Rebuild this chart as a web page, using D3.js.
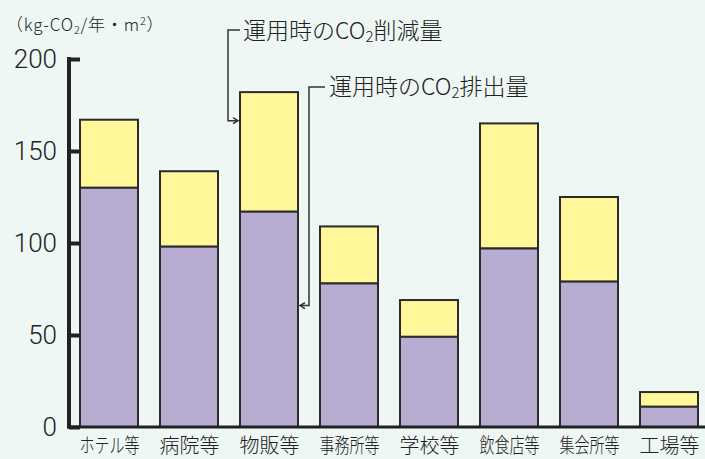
<!DOCTYPE html>
<html>
<head>
<meta charset="utf-8">
<script src="https://cdn.jsdelivr.net/npm/d3@7"></script>
<style>
  html, body { margin: 0; padding: 0; background: #eef7f3; }
  svg { display: block; }
  text { font-family: "Noto Sans CJK JP", "Noto Sans", sans-serif; fill: #222; font-weight: 300; }
</style>
</head>
<body>
<svg id="chart" width="705" height="459"></svg>
<script>
// Building categories
const categories = ["ホテル等", "病院等", "物販等", "事務所等", "学校等", "飲食店等", "集会所等", "工場等"];
// Operational CO2 emissions (kg-CO2/年・m2)
const emissions = [130, 98, 117, 78, 49, 97, 79, 11];
// Operational CO2 reductions (stacked on top of emissions)
const reductions = [37, 41, 65, 31, 20, 68, 46, 8];
const yTicks = [0, 50, 100, 150, 200];

const svg = d3.select("#chart");
const W = 705, H = 459;

svg.append("rect").attr("width", W).attr("height", H).attr("fill", "#eef7f3");

const x = d3.scaleBand()
  .domain(categories)
  .range([69, 709])
  .paddingInner(0.275)
  .paddingOuter(0.1375);

const y = d3.scaleLinear().domain([0, 200]).range([427, 59]);

const data = categories.map((c, i) => ({ c, e: emissions[i], r: reductions[i] }));

// Bars: emissions (purple) with reductions (yellow) stacked on top
const g = svg.append("g");
g.selectAll("rect.red").data(data).join("rect")
  .attr("class", "red")
  .attr("x", d => x(d.c))
  .attr("y", d => y(d.e + d.r))
  .attr("width", x.bandwidth())
  .attr("height", d => y(d.e) - y(d.e + d.r))
  .attr("fill", "#fff79a")
  .attr("stroke", "#2b2b2b")
  .attr("stroke-width", 2);

g.selectAll("rect.emi").data(data).join("rect")
  .attr("class", "emi")
  .attr("x", d => x(d.c))
  .attr("y", d => y(d.e))
  .attr("width", x.bandwidth())
  .attr("height", d => y(0) - y(d.e))
  .attr("fill", "#b9acd3")
  .attr("stroke", "#2b2b2b")
  .attr("stroke-width", 2);

// Y axis with inward ticks
const yAxis = d3.axisRight(y).tickValues(yTicks).tickSize(11).tickFormat("");
const ya = svg.append("g").attr("transform", "translate(69,0)").call(yAxis);
ya.select(".domain").remove();
ya.selectAll(".tick line").attr("stroke", "#222").attr("stroke-width", 4);
svg.append("line")
  .attr("x1", 69).attr("x2", 69)
  .attr("y1", y(200) - 2).attr("y2", y(0) + 1.5)
  .attr("stroke", "#222").attr("stroke-width", 4);
// Baseline
svg.append("line")
  .attr("x1", 67).attr("x2", 705)
  .attr("y1", y(0)).attr("y2", y(0))
  .attr("stroke", "#222").attr("stroke-width", 3);

// Tick labels
svg.selectAll("text.ytl").data(yTicks).join("text")
  .attr("class", "ytl")
  .attr("x", 57)
  .attr("y", d => y(d))
  .attr("dy", "0.36em")
  .attr("text-anchor", "end")
  .style("font-family", "Roboto, 'Liberation Sans', Arial, sans-serif")
  .style("font-weight", 300)
  .attr("font-size", 26)
  .text(d => d);

// Unit label
const unit = svg.append("text").attr("x", 6).attr("y", 31).attr("font-size", 17)
  .attr("letter-spacing", 0.8);
unit.append("tspan").text("（kg-CO");
unit.append("tspan").attr("font-size", 11).attr("dy", 3).text("2");
unit.append("tspan").attr("dy", -3).text("/年・m");
unit.append("tspan").attr("font-size", 11).attr("dy", -6).text("2");
unit.append("tspan").attr("dy", 6).text("）");

// Category labels, squeezed to the bar width
svg.selectAll("text.xl").data(categories).join("text")
  .attr("class", "xl")
  .attr("x", d => x(d) + x.bandwidth() / 2 - 29.5)
  .attr("y", 453)
  .attr("font-size", 20)
  .attr("textLength", 60)
  .attr("lengthAdjust", "spacingAndGlyphs")
  .text(d => d);

// Annotations with leader arrows
const ann = svg.append("g").attr("fill", "none").attr("stroke", "#333").attr("stroke-width", 1.5);
const bx = x("物販等");
// Reduction callout: into the yellow part of 物販等
const yRed = y(166.5);
ann.append("path").attr("d", `M240,30 H228 V${yRed} H${bx - 3}`);
ann.append("path").attr("d", `M${bx - 7},${yRed - 3} L${bx - 2},${yRed} L${bx - 7},${yRed + 3}`);
// Emission callout: into the purple part of 物販等
const bxr = bx + x.bandwidth();
const yEmi = y(66);
ann.append("path").attr("d", `M325,87 H309 V${yEmi} H${bxr + 3}`);
ann.append("path").attr("d", `M${bxr + 7},${yEmi - 3} L${bxr + 2},${yEmi} L${bxr + 7},${yEmi + 3}`);

function callout(xp, yp, tail) {
  const t = svg.append("text").attr("x", xp).attr("y", yp).attr("font-size", 23);
  t.append("tspan").text("運用時のCO");
  t.append("tspan").attr("font-size", 15).attr("dy", 3).text("2");
  t.append("tspan").attr("dy", -3).text(tail);
}
callout(243, 39, "削減量");
callout(329, 95, "排出量");
</script>
</body>
</html>
